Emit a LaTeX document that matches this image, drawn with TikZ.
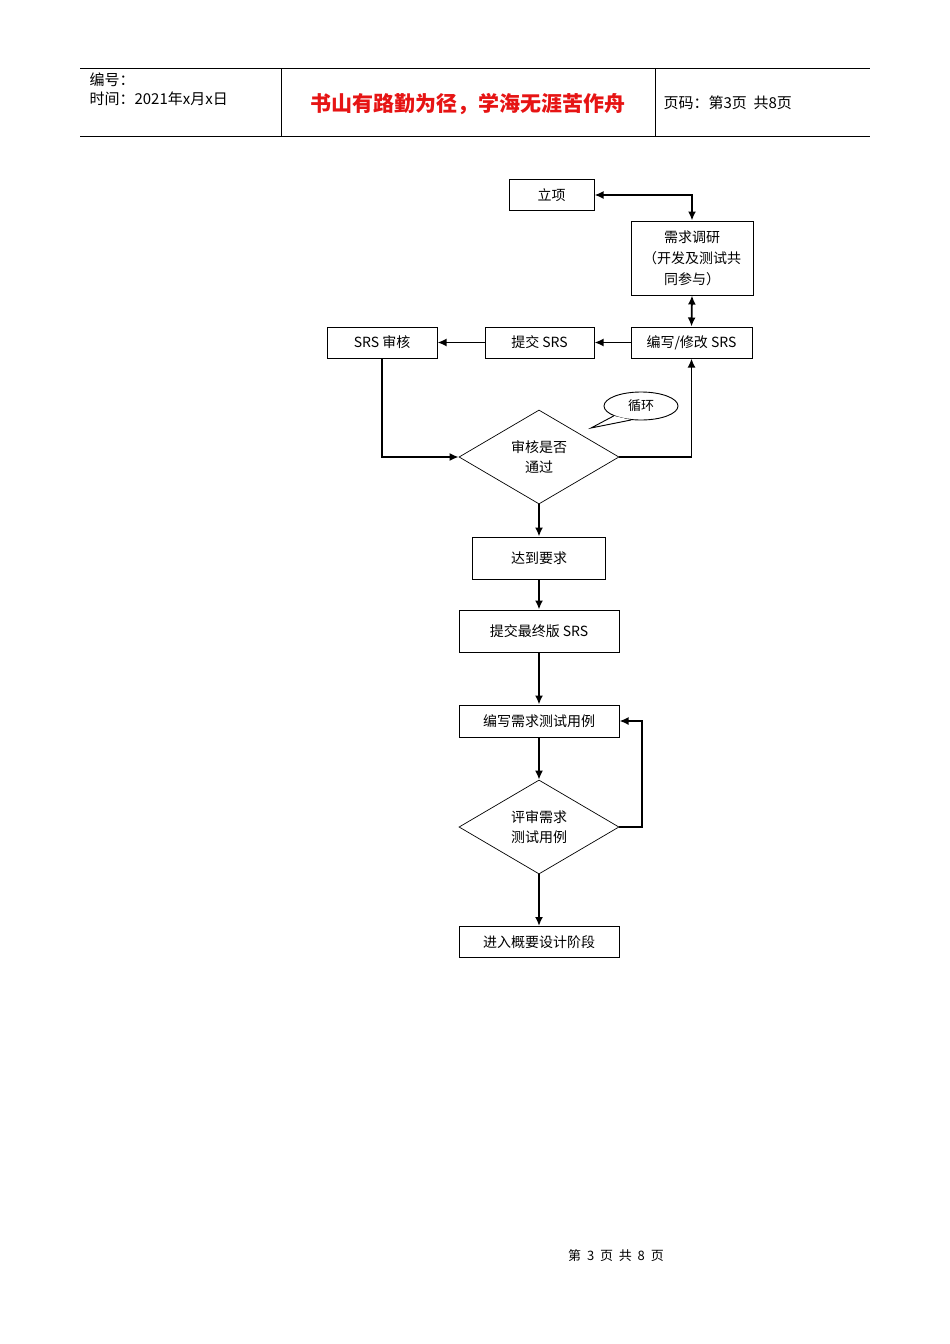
\documentclass[tikz,border=0pt]{standalone}
\usepackage{fontspec}
\newfontfamily\cjk{Noto Sans CJK SC}
\usetikzlibrary{shapes.geometric,arrows.meta}
\begin{document}
\begin{tikzpicture}[x=1pt,y=-1pt,>={Latex[length=9pt,width=8pt]},
  box/.style={draw,line width=1pt,minimum width=#1,minimum height=31pt,inner sep=0pt,font=\cjk\fontsize{14}{16}\selectfont},
  dia/.style={draw,line width=0.7pt,diamond,aspect=1.7,minimum width=160pt,minimum height=94pt,inner sep=0pt,font=\cjk\fontsize{14}{20}\selectfont,align=center},
  ar/.style={line width=1.8pt,->},
  ar2/.style={line width=1.8pt,<->},
  ht/.style={font=\cjk\fontsize{15}{17}\selectfont,anchor=west}]
\useasboundingbox (0,0) rectangle (950,1344);
% header
\draw (80,68) -- (870,68) (80,136) -- (870,136) (281,68) -- (281,136) (655,68) -- (655,136);
\node[ht] (h1) at (86,80) {编号：};
\node[ht] (h2) at (86,99) {时间：2021年x月x日};
\node[font=\cjk\bfseries\fontsize{21}{23}\selectfont,text={rgb,255:red,230;green,20;blue,20}] (h3) at (468,104) {书山有路勤为径，学海无涯苦作舟};
\node[ht] (h4) at (660,103) {页码：第3页\ \ 共8页};
% nodes
\node[box=85pt] (lx) at (551.5,195) {立项};
\node[box=122pt,minimum height=74pt,align=center,font=\cjk\fontsize{14}{21}\selectfont] (dy) at (692,258) {需求调研\\（开发及测试共\\同参与）};
\node[box=121pt] (bx) at (691.5,342.5) {编写/修改 SRS};
\node[box=109pt] (tj) at (539.5,342.5) {提交 SRS};
\node[box=110pt] (sh) at (382,342.5) {SRS 审核};
\node[dia] (d1) at (539,457) {审核是否\\通过};
\node[draw,line width=0.9pt,ellipse,minimum width=74pt,minimum height=28pt,inner sep=0pt,font=\cjk\fontsize{13}{15}\selectfont] (lp) at (641,406) {循环};
\coordinate (tip) at (591,428);
\node[box=133pt,minimum height=42pt] (dd) at (539,558) {达到要求};
\node[box=160pt,minimum height=42pt] (zz) at (539,631) {提交最终版 SRS};
\node[box=160pt,minimum height=32pt] (cs) at (539,721) {编写需求测试用例};
\node[dia] (d2) at (539,827) {评审需求\\测试用例};
\node[box=160pt] (jr) at (539,942) {进入概要设计阶段};
% callout tail
\draw[line width=0.9pt,fill=white] (lp.200) -- (tip) -- (lp.235);
% connectors
\draw[ar2] (lx.east) -| (dy.north);
\draw[ar2] (dy.south) -- (bx.north);
\draw[ar] (bx.west) -- (tj.east);
\draw[ar] (tj.west) -- (sh.east);
\draw[ar] (sh.south) |- (d1.west);
\draw[ar] (d1.east) -| (bx.south);
\draw[ar] (d1.south) -- (dd.north);
\draw[ar] (dd.south) -- (zz.north);
\draw[ar] (zz.south) -- (cs.north);
\draw[ar] (cs.south) -- (d2.north);
\coordinate (r2) at (642,827);
\draw[ar] (d2.east) -- (r2) |- (cs.east);
\draw[ar] (d2.south) -- (jr.north);
% footer
\node[font=\fontsize{13}{15}\selectfont] (ft) at (616,1256) {\cjk 第\ \ 3\ \ 页\ \ 共\ \ 8\ \ 页};
\end{tikzpicture}
\end{document}
